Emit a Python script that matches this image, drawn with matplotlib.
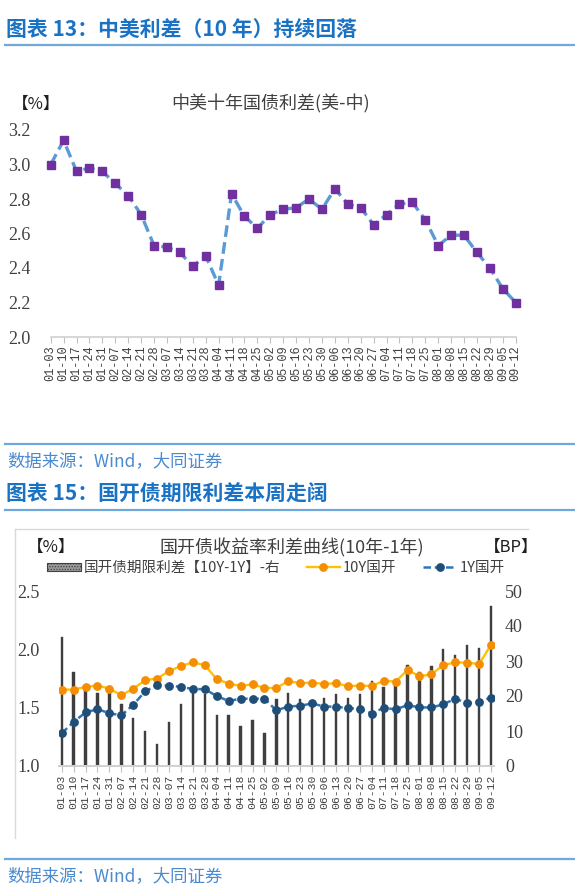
import matplotlib
matplotlib.use('Agg')
import matplotlib.pyplot as plt
from matplotlib.lines import Line2D
from matplotlib.patches import Patch
import numpy as np

plt.rcParams['font.family'] = ['Noto Sans CJK SC', 'DejaVu Sans']
plt.rcParams['hatch.linewidth'] = 0.6

# weekly dates shared by both charts
dates = ['01-03', '01-10', '01-17', '01-24', '01-31', '02-07', '02-14', '02-21',
         '02-28', '03-07', '03-14', '03-21', '03-28', '04-04', '04-11', '04-18',
         '04-25', '05-02', '05-09', '05-16', '05-23', '05-30', '06-06', '06-13',
         '06-20', '06-27', '07-04', '07-11', '07-18', '07-25', '08-01', '08-08',
         '08-15', '08-22', '08-29', '09-05', '09-12']

# chart 13: US-China 10y spread (%)
us_cn_spread = [3.00, 3.14, 2.96, 2.98, 2.96, 2.89, 2.82, 2.71, 2.53, 2.52, 2.49,
                2.41, 2.47, 2.30, 2.83, 2.70, 2.63, 2.71, 2.74, 2.75, 2.80, 2.74,
                2.86, 2.77, 2.75, 2.65, 2.71, 2.77, 2.78, 2.68, 2.53, 2.59, 2.59,
                2.49, 2.40, 2.28, 2.20]
y1_ticks = [2.0, 2.2, 2.4, 2.6, 2.8, 3.0, 3.2]

# chart 15: CDB yields (%) and term spread (BP)
cdb_10y = [1.655, 1.655, 1.678, 1.690, 1.663, 1.606, 1.663, 1.735, 1.750, 1.813,
           1.857, 1.888, 1.865, 1.744, 1.707, 1.686, 1.700, 1.669, 1.669, 1.727,
           1.710, 1.715, 1.704, 1.710, 1.684, 1.690, 1.686, 1.730, 1.724, 1.822,
           1.770, 1.785, 1.865, 1.888, 1.886, 1.874, 2.038]
cdb_1y = [1.280, 1.378, 1.459, 1.487, 1.453, 1.433, 1.525, 1.640, 1.692, 1.689,
          1.678, 1.660, 1.658, 1.600, 1.557, 1.577, 1.577, 1.577, 1.476, 1.510,
          1.516, 1.536, 1.510, 1.508, 1.496, 1.490, 1.450, 1.499, 1.485, 1.522,
          1.502, 1.502, 1.528, 1.577, 1.539, 1.551, 1.586]
term_spread = [36.8, 26.9, 21.6, 20.9, 21.0, 17.8, 13.7, 10.0, 6.4, 12.5, 17.7,
               22.4, 20.5, 14.7, 14.7, 11.3, 13.2, 9.5, 19.2, 21.0, 19.2, 18.4,
               19.4, 20.5, 19.4, 20.7, 24.2, 22.6, 23.4, 28.9, 26.9, 28.7, 33.4,
               31.6, 34.5, 33.7, 45.7]
y2_ticks = [1.0, 1.5, 2.0, 2.5]
y2r_ticks = [0, 10, 20, 30, 40, 50]

W, H = 575, 890
fig = plt.figure(figsize=(W / 100, H / 100), dpi=100)


def fx(x):
    return x / W


def fy(y):
    return 1 - y / H


head_blue = '#1a72c4'
rule_blue = '#6fa8dc'
src_blue = '#4a8ad0'
num_font = ['Liberation Serif', 'DejaVu Serif']
tick_font = ['Liberation Mono', 'DejaVu Sans Mono']

# ---- headers / rules / sources
fig.text(fx(6), fy(29), '图表 13：中美利差（10 年）持续回落', fontsize=15,
         fontweight='bold', color=head_blue, va='center', ha='left')
fig.add_artist(Line2D([fx(5), fx(575)], [fy(45), fy(45)], color=rule_blue, lw=1.6))
fig.add_artist(Line2D([fx(5), fx(575)], [fy(444), fy(444)], color=rule_blue, lw=1.6))
fig.text(fx(7), fy(461), '数据来源：Wind，大同证券', fontsize=12.5,
         color=src_blue, va='center', ha='left', style='italic')
fig.text(fx(6), fy(494), '图表 15：国开债期限利差本周走阔', fontsize=15,
         fontweight='bold', color=head_blue, va='center', ha='left')
fig.add_artist(Line2D([fx(5), fx(575)], [fy(510), fy(510)], color=rule_blue, lw=1.6))
fig.add_artist(Line2D([fx(5), fx(575)], [fy(859), fy(859)], color=rule_blue, lw=1.6))
fig.text(fx(7), fy(876), '数据来源：Wind，大同证券', fontsize=12.5,
         color=src_blue, va='center', ha='left', style='italic')

# ---- chart 13
x = np.arange(len(dates))
ax1 = fig.add_axes([fx(50.7), fy(337), fx(515.7 - 50.7), (337 - 130) / H])
ax1.plot(x, us_cn_spread, color='#5b9bd5', lw=2.4, linestyle=(0, (3.5, 1.6)),
         marker='s', markersize=6.2, markerfacecolor='#7030a0',
         markeredgecolor='#7030a0', zorder=3, clip_on=False)
ax1.set_xlim(0, len(dates) - 1)
ax1.set_ylim(2.0, 3.2)
ax1.set_yticks(y1_ticks)
ax1.set_yticklabels([f'{v:.1f}' for v in y1_ticks], family=num_font,
                    fontsize=13, color='#404040')
ax1.tick_params(axis='y', length=0, pad=14.5)
ax1.set_xticks(x)
ax1.set_xticklabels(dates, rotation=90, family=tick_font,
                    fontsize=8.6, color='#404040')
ax1.tick_params(axis='x', length=4, color='#bfbfbf', pad=2)
for s in ['top', 'right', 'left']:
    ax1.spines[s].set_visible(False)
ax1.spines['bottom'].set_color('#d0d0d0')
ax1.spines['bottom'].set_linewidth(1.2)
fig.text(fx(12), fy(104), '【%】', fontsize=12, color='#202020', va='center', ha='left')
fig.text(fx(271), fy(104), '中美十年国债利差(美-中)', fontsize=13,
         color='#404040', va='center', ha='center')

# ---- chart 15
fig.add_artist(Line2D([fx(15), fx(528)], [fy(529), fy(529)], color='#d9d9d9', lw=1))
fig.add_artist(Line2D([fx(15), fx(15)], [fy(529), fy(838)], color='#d9d9d9', lw=1))

step = 11.925
ax2 = fig.add_axes([fx(61.7 - 0.25 * step), fy(766), fx(36.5 * step), 175 / H])
axr = ax2.twinx()
bars = axr.bar(x, term_spread, width=0.2, color='#3f3f3f', edgecolor='#3f3f3f',
               lw=0.3)
l10, = ax2.plot(x, cdb_10y, color='#ffc000', lw=1.7, marker='o', markersize=5.3,
                markerfacecolor='#f58d05', markeredgecolor='#f58d05')
l1, = ax2.plot(x, cdb_1y, color='#2e75b6', lw=1.8, linestyle=(0, (3, 1.5)),
               marker='o', markersize=5.3, markerfacecolor='#1f4e79',
               markeredgecolor='#1f4e79')
ax2.set_zorder(axr.get_zorder() + 1)
ax2.patch.set_visible(False)

ax2.set_xlim(-0.25, len(dates) - 0.75)
ax2.set_ylim(1.0, 2.5)
axr.set_ylim(0, 50)
ax2.set_yticks(y2_ticks)
ax2.set_yticklabels([f'{v:.1f}' for v in y2_ticks], family=num_font,
                    fontsize=13, color='#404040')
axr.set_yticks(y2r_ticks)
axr.set_yticklabels([str(v) for v in y2r_ticks], family=num_font,
                    fontsize=13, color='#404040')
ax2.tick_params(axis='y', length=0, pad=13.5)
axr.tick_params(axis='y', length=0, pad=8)
ax2.set_xticks(x)
ax2.set_xticklabels(dates, rotation=90, family=tick_font,
                    fontsize=8.2, color='#404040')
ax2.tick_params(axis='x', length=4, color='#bfbfbf', pad=2)
for a in (ax2, axr):
    for s in ['top', 'right', 'left']:
        a.spines[s].set_visible(False)
    a.spines['bottom'].set_color('#d0d0d0')
    a.spines['bottom'].set_linewidth(1.2)

fig.text(fx(27), fy(547), '【%】', fontsize=12, color='#202020', va='center', ha='left')
fig.text(fx(484), fy(547), '【BP】', fontsize=12, color='#202020', va='center', ha='left',
         family=['Noto Sans CJK SC'])
fig.text(fx(292), fy(548), '国开债收益率利差曲线(10年-1年)', fontsize=13,
         color='#404040', va='center', ha='center')

bar_proxy = Patch(facecolor='#9a9a9a', edgecolor='#404040', hatch='......', lw=0.8)
fig.legend([bar_proxy, l10, l1], ['国开债期限利差【10Y-1Y】-右', '10Y国开', '1Y国开'],
           loc='center', bbox_to_anchor=(fx(276), fy(568)), ncol=3, frameon=False,
           fontsize=10.5, handlelength=2.3, handleheight=0.5, handletextpad=0.2,
           columnspacing=1.8, borderpad=0, labelcolor='#404040')

fig.savefig('out.png', dpi=100)
